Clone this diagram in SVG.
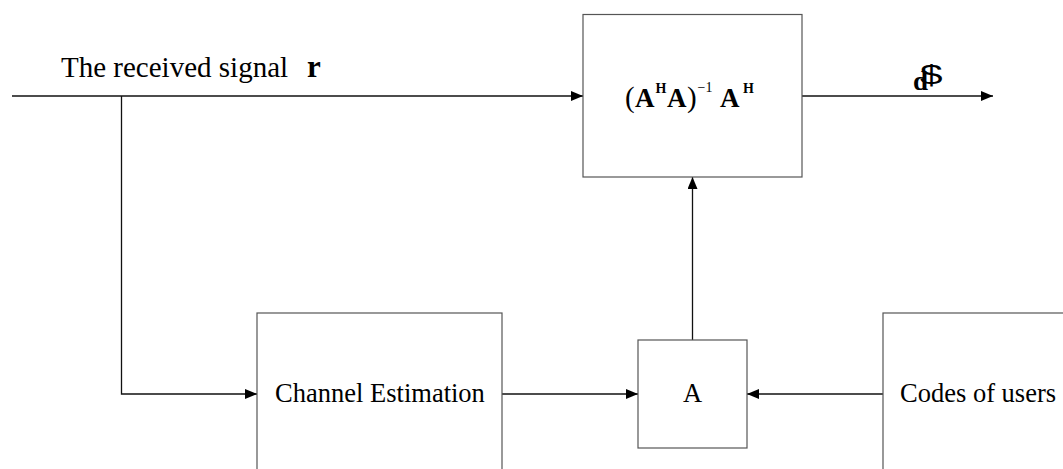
<svg xmlns="http://www.w3.org/2000/svg" width="1063" height="469" viewBox="0 0 1063 469">
  <style>
    .box { fill: #ffffff; stroke: #555555; stroke-width: 1.2; }
    .wire { fill: none; stroke: #111111; stroke-width: 1.3; }
    .label { font-family: "Liberation Serif", "Times New Roman", serif; font-size: 26px; fill: #000000; }
    .math { font-family: "Liberation Serif", "Times New Roman", serif; font-weight: bold; fill: #000000; }
    .sym { font-family: "Liberation Sans", Arial, sans-serif; fill: #000000; }
  </style>
  <defs>
    <marker id="arrow" viewBox="0 0 12 10" refX="12" refY="5" markerWidth="12" markerHeight="10" markerUnits="userSpaceOnUse" orient="auto">
      <path d="M0,0 L12,5 L0,10 Z" fill="#000000"/>
    </marker>
  </defs>
  <rect width="1063" height="469" fill="#ffffff"/>

  <!-- connectors -->
  <g id="connectors">
    <line class="wire" x1="12" y1="96" x2="583" y2="96" marker-end="url(#arrow)"/>
    <polyline class="wire" points="121.5,96 121.5,394 257,394" marker-end="url(#arrow)"/>
    <line class="wire" x1="802" y1="96" x2="993" y2="96" marker-end="url(#arrow)"/>
    <line class="wire" x1="502" y1="394" x2="638" y2="394" marker-end="url(#arrow)"/>
    <line class="wire" x1="883" y1="394" x2="747" y2="394" marker-end="url(#arrow)"/>
    <line class="wire" x1="692.5" y1="340" x2="692.5" y2="177" marker-end="url(#arrow)"/>
  </g>

  <!-- input label -->
  <g id="input-label">
    <text class="label" x="61" y="77" style="font-size:29px">The received signal</text>
    <text class="math" x="307" y="77" style="font-size:31px">r</text>
  </g>

  <!-- least-squares block: (A^H A)^-1 A^H -->
  <g id="ls-block">
    <rect class="box" x="583" y="14.5" width="219" height="162.5"/>
    <text class="label" x="625" y="107" style="font-size:29px">(</text>
    <text class="math" x="635" y="106.5" style="font-size:27px">A</text>
    <text class="math" x="655.5" y="93" style="font-size:14px">H</text>
    <text class="math" x="667" y="106.5" style="font-size:27px">A</text>
    <text class="label" x="687" y="107" style="font-size:29px">)</text>
    <text class="label" x="697.5" y="92" style="font-size:14px">−1</text>
    <text class="math" x="720" y="106.5" style="font-size:27px">A</text>
    <text class="math" x="743" y="93" style="font-size:14px">H</text>
  </g>

  <!-- output label -->
  <g id="output-label">
    <text class="math" x="913" y="90" style="font-size:27px">d</text>
    <text class="sym" transform="translate(920,84) scale(1.45,1)" x="0" y="0" style="font-size:28px">$</text>
  </g>

  <!-- channel estimation block -->
  <g id="channel-estimation">
    <rect class="box" x="257" y="313" width="245" height="170"/>
    <text class="label" x="380" y="401.5" text-anchor="middle" style="font-size:26.5px">Channel Estimation</text>
  </g>

  <!-- matrix A block -->
  <g id="matrix-a">
    <rect class="box" x="638" y="340" width="109" height="108"/>
    <text class="label" x="692.5" y="402" text-anchor="middle" style="font-size:26.5px">A</text>
  </g>

  <!-- user codes block -->
  <g id="user-codes">
    <rect class="box" x="883" y="313" width="200" height="170"/>
    <text class="label" x="900" y="402" style="font-size:26.5px">Codes of users</text>
  </g>
</svg>
